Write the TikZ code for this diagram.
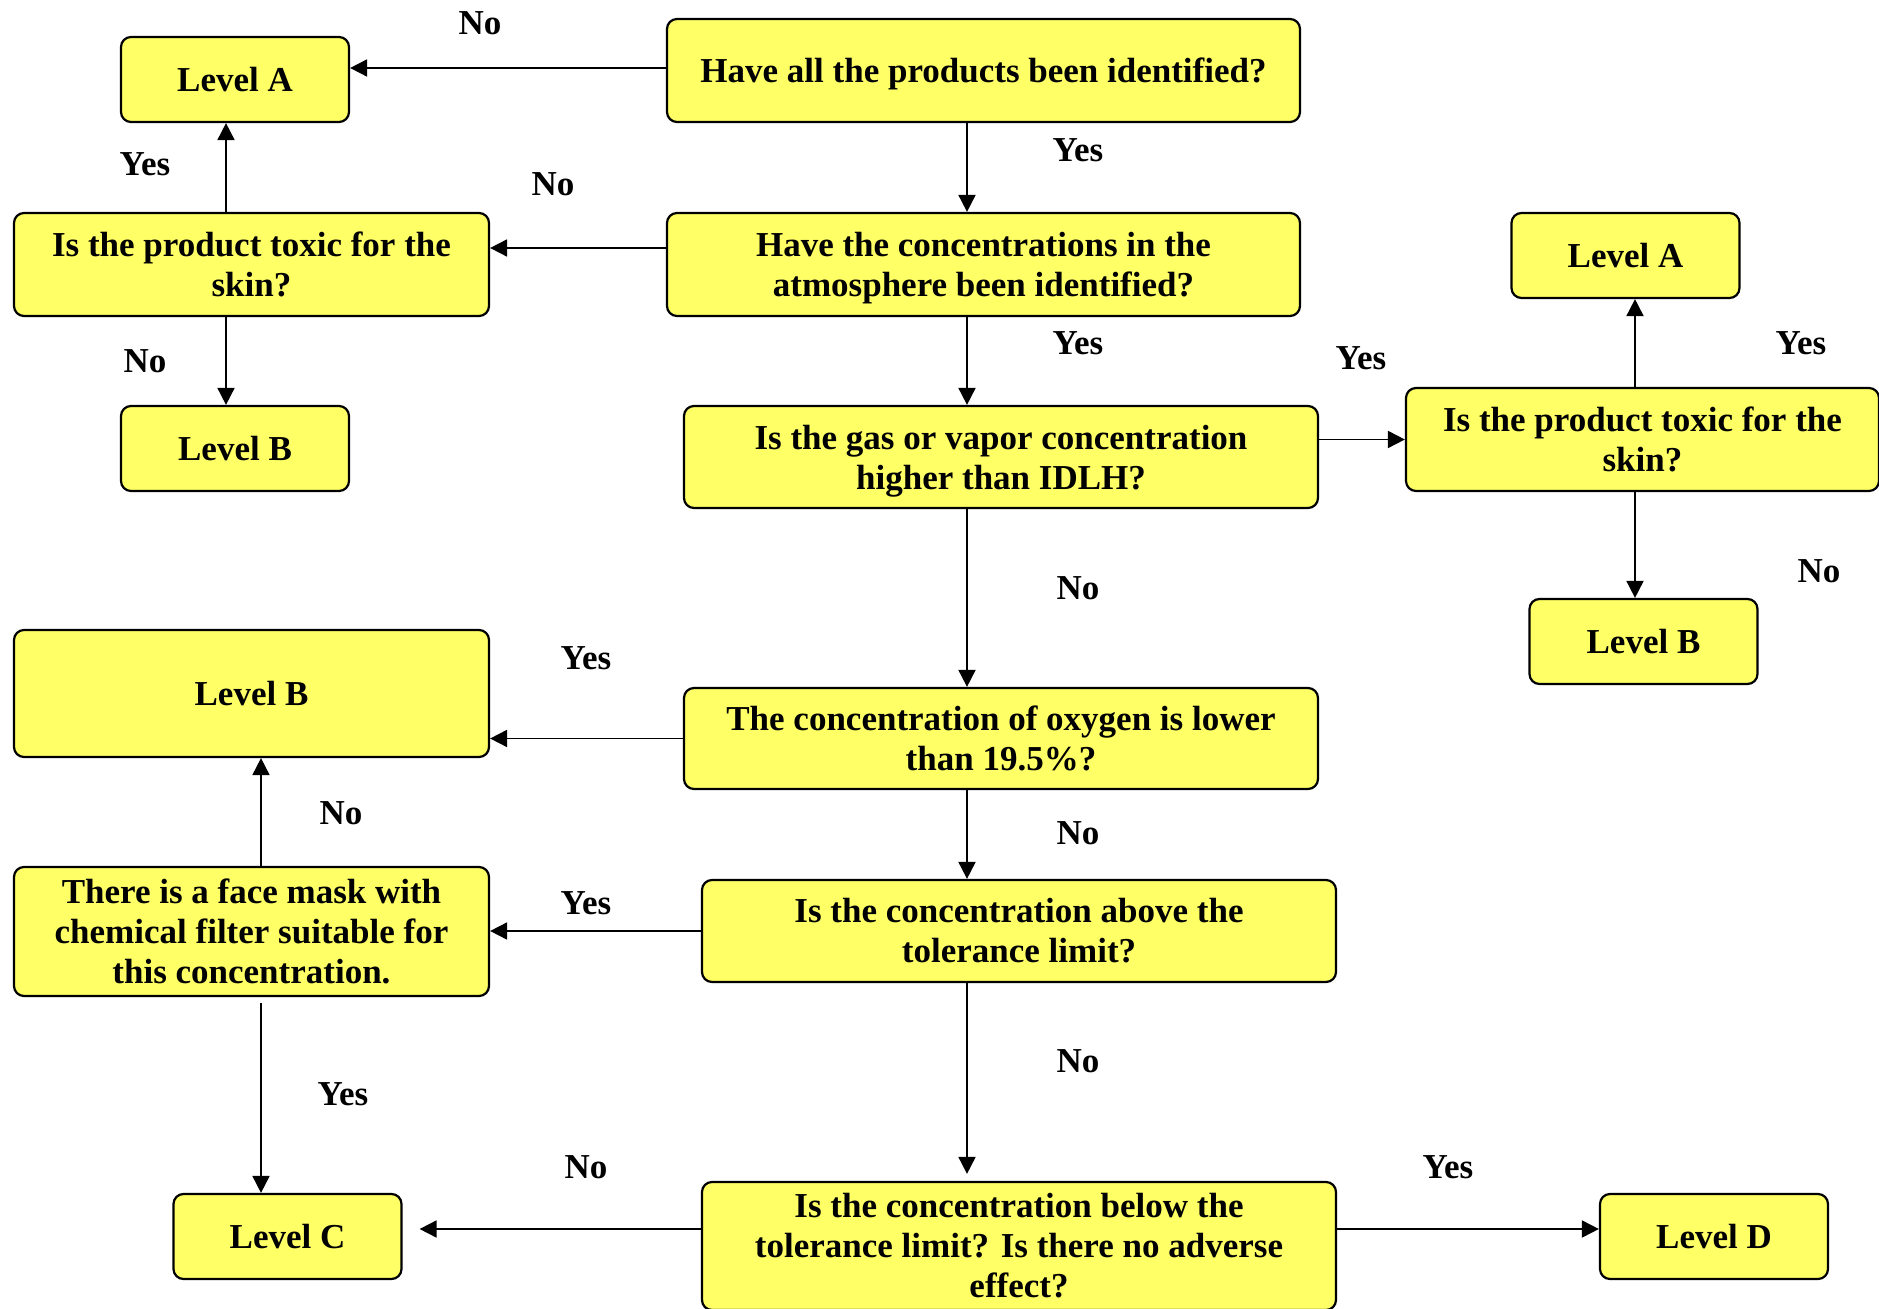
\documentclass[tikz,border=0pt]{standalone}
\usepackage{fontspec}
\setmainfont{Liberation Serif}
\usetikzlibrary{arrows.meta}
\definecolor{boxyellow}{RGB}{255,255,102}
\begin{document}
\begin{tikzpicture}[x=0.5pt, y=-0.5pt,
    box/.style = {draw, line width=1.1pt, fill=boxyellow, rounded corners=5pt, align=center, inner sep=0pt, font=\fontsize{17.5}{20}\selectfont\bfseries},
    lvl/.style = {box, minimum width=114pt, minimum height=42.5pt},
    lowtext/.style = {execute at begin node={\rule{0pt}{#1}}},
    lbl/.style = {inner sep=0pt, font=\fontsize{17.5}{20}\selectfont\bfseries},
    arr/.style = {-{Triangle[length=8.5pt, width=8.5pt]}, line width=0.9pt}]
\useasboundingbox (0,0) rectangle (1879,1309);
% boxes
\node[box, lowtext=16.2pt, minimum width=316.5pt, minimum height=51.5pt] (q1) at (983.5,70.5) {Have all the products been identified?};
\node[lvl] (a1) at (235,79.5) {Level A};
\node[box, minimum width=237.5pt, minimum height=51.5pt] (q2) at (251.5,264.5) {Is the product toxic for the\\skin?};
\node[box, lowtext=36pt, minimum width=316.5pt, minimum height=51.5pt] (q3) at (983.5,264.5) {Have the concentrations in the\\atmosphere been identified?};
\node[lvl] (b1) at (235,448.5) {Level B};
\node[box, lowtext=36pt, minimum width=317pt, minimum height=51pt] (q4) at (1001,457) {Is the gas or vapor concentration\\higher than IDLH?};
\node[lvl] (a2) at (1625.5,255.5) {Level A};
\node[box, minimum width=236.5pt, minimum height=51.5pt] (q5) at (1642.5,439.5) {Is the product toxic for the\\skin?};
\node[lvl] (b2) at (1643.5,641.5) {Level B};
\node[box, minimum width=237.5pt, minimum height=63.5pt] (b3) at (251.5,693.5) {Level B};
\node[box, minimum width=317pt, minimum height=50.5pt] (q6) at (1001,738.5) {The concentration of oxygen is lower\\than 19.5\%?};
\node[box, minimum width=237.5pt, minimum height=64.5pt] (q7) at (251.5,931.5) {There is a face mask with\\chemical filter suitable for\\this concentration.};
\node[box, minimum width=317pt, minimum height=51pt] (q8) at (1019,931) {Is the concentration above the\\tolerance limit?};
\node[lvl] (c) at (287.5,1236.5) {Level C};
\node[box, minimum width=317pt, minimum height=64pt] (q9) at (1019,1246) {Is the concentration below the\\tolerance limit? Is there no adverse\\effect?};
\node[lvl] (d) at (1714,1236.5) {Level D};
\coordinate (spine) at (967,0);
% arrows
\draw[arr] (q1.west |- 0,68) -- (a1.east |- 0,68);
\draw[arr] (q1.south -| spine) -- (q3.north -| spine);
\draw[arr] (q3.west |- 0,248) -- (q2.east |- 0,248);
\draw[arr] (q2.north -| 226,0) -- (a1.south -| 226,0);
\draw[arr] (q2.south -| 226,0) -- (b1.north -| 226,0);
\draw[arr] (q3.south -| spine) -- (q4.north -| spine);
\draw[arr] (q4.east |- q5.west) -- (q5.west);
\draw[arr] (q5.north -| 1635,0) -- (a2.south -| 1635,0);
\draw[arr] (q5.south -| 1635,0) -- (b2.north -| 1635,0);
\draw[arr] (q4.south -| spine) -- (q6.north -| spine);
\draw[arr] (q6.west) -- (q6.west -| b3.east);
\draw[arr] (q6.south -| spine) -- (q8.north -| spine);
\draw[arr] (q7.north -| 261,0) -- (b3.south -| 261,0);
\draw[arr] (q8.west) -- (q8.west -| q7.east);
\draw[arr, shorten <=3pt] (q7.south -| 261,0) -- (c.north -| 261,0);
\draw[arr, shorten >=3.5pt] (q8.south -| spine) -- (q9.north -| spine);
\draw[arr, shorten >=8.5pt] (q9.west |- 0,1229) -- (c.east |- 0,1229);
\draw[arr] (q9.east |- 0,1229) -- (d.west |- 0,1229);
% labels
\node[lbl] (n1) at (480,23) {No};
\node[lbl] (y1) at (1078,150) {Yes};
\node[lbl] (n2) at (553,184) {No};
\node[lbl] (y2) at (145,164) {Yes};
\node[lbl] (n3) at (145,361) {No};
\node[lbl] (y3) at (1078,343) {Yes};
\node[lbl] (y4) at (1361,358) {Yes};
\node[lbl] (y5) at (1801,343) {Yes};
\node[lbl] (n4) at (1819,571) {No};
\node[lbl] (n5) at (1078,588) {No};
\node[lbl] (y6) at (586,658) {Yes};
\node[lbl] (n6) at (1078,833) {No};
\node[lbl] (n7) at (341,813) {No};
\node[lbl] (y7) at (586,903) {Yes};
\node[lbl] (y8) at (343,1094) {Yes};
\node[lbl] (n8) at (1078,1061) {No};
\node[lbl] (n9) at (586,1167) {No};
\node[lbl] (y9) at (1448,1167) {Yes};
\end{tikzpicture}
\end{document}
